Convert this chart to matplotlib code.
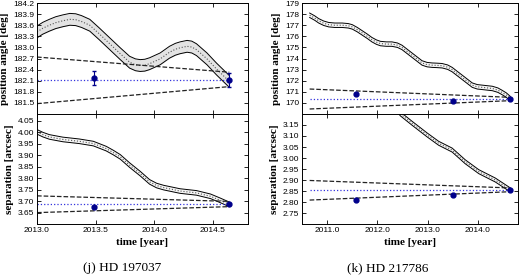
import numpy as np
import matplotlib.pyplot as plt

# ---- HD 197037 ----
j_t = [2013.0, 2013.05, 2013.105, 2013.16, 2013.22, 2013.28, 2013.33, 2013.38, 2013.45,
       2013.53, 2013.62, 2013.71, 2013.79, 2013.84, 2013.88, 2013.92, 2013.96, 2014.05,
       2014.13, 2014.18, 2014.22, 2014.28, 2014.32, 2014.36, 2014.45, 2014.53, 2014.64]
j_pa = [183.42, 183.52, 183.60, 183.67, 183.72, 183.76, 183.75, 183.70, 183.60,
        183.37, 183.10, 182.83, 182.60, 182.53, 182.51, 182.52, 182.56, 182.69,
        182.87, 182.95, 182.99, 183.03, 183.01, 182.94, 182.69, 182.42, 182.08]
j_pa_err = 0.16
j_st = [2013.0, 2013.05, 2013.105, 2013.22, 2013.36, 2013.48, 2013.59, 2013.65, 2013.71,
        2013.79, 2013.88, 2013.96, 2014.02, 2014.08, 2014.22, 2014.36, 2014.48, 2014.56,
        2014.64]
j_sep = [4.002, 3.990, 3.980, 3.969, 3.961, 3.951, 3.929, 3.912, 3.893,
         3.857, 3.820, 3.784, 3.768, 3.759, 3.744, 3.736, 3.721, 3.704,
         3.686]
j_sep_err = 0.01
j_obs_t = [2013.49, 2014.64]
j_obs_pa = [182.17, 182.12]
j_obs_pa_err = [0.18, 0.18]
j_obs_sep = [3.676, 3.687]
j_obs_sep_err = [0.004, 0.004]
j_pa_upper = [182.74, 182.33]
j_pa_lower = [181.48, 181.94]
j_pa_const = 182.11
j_sep_upper = [3.723, 3.699]
j_sep_lower = [3.650, 3.676]
j_sep_const = 3.686
j_line_t = [2013.0, 2014.64]

# ---- HD 217786 ----
k_t = [2010.65, 2010.75, 2010.83, 2010.93, 2011.03, 2011.15, 2011.30, 2011.42, 2011.50,
       2011.60, 2011.70, 2011.80, 2011.89, 2011.98, 2012.06, 2012.18, 2012.29, 2012.40,
       2012.49, 2012.59, 2012.69, 2012.79, 2012.89, 2012.99, 2013.09, 2013.19, 2013.29,
       2013.40, 2013.49, 2013.59, 2013.69, 2013.79, 2013.89, 2013.99, 2014.09, 2014.19,
       2014.29, 2014.40, 2014.48, 2014.57, 2014.65]
k_pa = [177.9, 177.65, 177.4, 177.18, 177.05, 177.0, 177.0, 176.95, 176.85,
        176.6, 176.3, 176.0, 175.7, 175.48, 175.35, 175.3, 175.3, 175.2,
        175.0, 174.65, 174.3, 173.95, 173.6, 173.45, 173.4, 173.38, 173.35,
        173.22, 173.0, 172.65, 172.3, 171.95, 171.6, 171.45, 171.4, 171.35,
        171.3, 171.15, 170.95, 170.7, 170.38]
k_pa_err = 0.2
k_st = [2010.65, 2011.2, 2011.8, 2012.2, 2012.46, 2012.69, 2012.99, 2013.22, 2013.49,
        2013.75, 2014.02, 2014.35, 2014.65]
k_sep = [3.75, 3.55, 3.38, 3.27, 3.20, 3.158, 3.105, 3.067, 3.036,
         2.983, 2.938, 2.900, 2.855]
k_sep_err = 0.009
k_obs_t = [2011.57, 2013.50, 2014.65]
k_obs_pa = [170.8, 170.2, 170.35]
k_obs_pa_err = [0.08, 0.08, 0.08]
k_obs_sep = [2.809, 2.831, 2.855]
k_obs_sep_err = [0.003, 0.003, 0.003]
k_pa_upper = [171.25, 170.5]
k_pa_lower = [169.45, 170.2]
k_pa_const = 170.35
k_sep_upper = [2.898, 2.864]
k_sep_lower = [2.809, 2.847]
k_sep_const = 2.855
k_line_t = [2010.65, 2014.65]

serif = 'Liberation Serif'
tickfont = ['Liberation Sans Narrow', 'Liberation Sans', 'DejaVu Sans']
dot_blue = '#00008b'


def panel(ax, t, c, w, fill, obs_t, obs_y, obs_err, line_t, up, lo, const):
    t = np.array(t)
    c = np.array(c)
    ax.fill_between(t, c - w, c + w, color=fill, lw=0)
    ax.plot(t, c - w, color='k', lw=0.7)
    ax.plot(t, c + w, color='k', lw=0.7)
    ax.plot(t, c, ':', color='#555555', lw=0.8)
    ax.plot(line_t, up, '--', color='#222222', lw=0.9)
    ax.plot(line_t, lo, '--', color='#222222', lw=0.9)
    ax.plot(line_t, [const, const], ':', color='#3333dd', lw=0.9)
    ax.errorbar(obs_t, obs_y, yerr=obs_err, fmt='o', color=dot_blue, ms=3.5,
                elinewidth=0.8, capsize=1.5, zorder=5)
    ax.tick_params(direction='in', top=True, right=True, labelsize=6,
                   length=3, width=0.6, pad=2)
    for s in ax.spines.values():
        s.set_linewidth(0.7)


def ticklabels(ax):
    for lbl in ax.get_xticklabels() + ax.get_yticklabels():
        lbl.set_family(tickfont)


fig = plt.figure(figsize=(5.2, 2.78), dpi=100)

# left column
ax1 = fig.add_axes([0.0712, 0.590, 0.4058, 0.399])
ax2 = fig.add_axes([0.0712, 0.194, 0.4058, 0.396])
panel(ax1, j_t, j_pa, j_pa_err, '#e3e3e3', j_obs_t, j_obs_pa, j_obs_pa_err,
      j_line_t, j_pa_upper, j_pa_lower, j_pa_const)
panel(ax2, j_st, j_sep, j_sep_err, '#f4f4f4', j_obs_t, j_obs_sep, j_obs_sep_err,
      j_line_t, j_sep_upper, j_sep_lower, j_sep_const)
for a in (ax1, ax2):
    a.set_xlim(2013.0, 2014.8)
    a.set_xticks([2013.0, 2013.5, 2014.0, 2014.5])
ax1.set_xticklabels([])
ax1.set_ylim(181.2, 184.2)
ax1.set_yticks(np.arange(181.2, 184.25, 0.3))
ax1.set_yticklabels([''] + ['%.1f' % v for v in np.arange(181.5, 184.25, 0.3)])
ax2.set_ylim(3.6, 4.08)
ax2.set_yticks([3.65, 3.70, 3.75, 3.80, 3.85, 3.90, 3.95, 4.00, 4.05])
ax2.set_yticklabels(['%.2f' % v for v in ax2.get_yticks()])
ax2.set_xticklabels(['%.1f' % v for v in ax2.get_xticks()])

# right column
ax3 = fig.add_axes([0.581, 0.590, 0.415, 0.399])
ax4 = fig.add_axes([0.581, 0.194, 0.415, 0.396])
panel(ax3, k_t, k_pa, k_pa_err, '#f4f4f4', k_obs_t, k_obs_pa, k_obs_pa_err,
      k_line_t, k_pa_upper, k_pa_lower, k_pa_const)
panel(ax4, k_st, k_sep, k_sep_err, '#f4f4f4', k_obs_t, k_obs_sep, k_obs_sep_err,
      k_line_t, k_sep_upper, k_sep_lower, k_sep_const)
for a in (ax3, ax4):
    a.set_xlim(2010.5, 2014.8)
    a.set_xticks([2011.0, 2012.0, 2013.0, 2014.0])
ax3.set_xticklabels([])
ax3.set_ylim(169.0, 179.0)
ax3.set_yticks(range(169, 180))
ax3.set_yticklabels([''] + [str(v) for v in range(170, 180)])
ax4.set_ylim(2.7, 3.2)
ax4.set_yticks([2.75, 2.80, 2.85, 2.90, 2.95, 3.00, 3.05, 3.10, 3.15])
ax4.set_yticklabels(['%.2f' % v for v in ax4.get_yticks()])
ax4.set_xticklabels(['%.1f' % v for v in ax4.get_xticks()])

for a in (ax1, ax2, ax3, ax4):
    ticklabels(a)

lab = dict(family=serif, fontweight='bold', fontsize=8)
ax1.set_ylabel('position angle [deg]', labelpad=3, **lab)
ax2.set_ylabel('separation [arcsec]', labelpad=3, **lab)
ax3.set_ylabel('position angle [deg]', labelpad=3, **lab)
ax4.set_ylabel('separation [arcsec]', labelpad=3, **lab)
ax2.set_xlabel('time [year]', labelpad=3, **lab)
ax4.set_xlabel('time [year]', labelpad=3, **lab)

fig.text(0.235, 0.025, '(j) HD 197037', family=serif, fontsize=9.5, ha='center')
fig.text(0.745, 0.025, '(k) HD 217786', family=serif, fontsize=9.5, ha='center')

fig.savefig('out.png', dpi=100)
plt.close()
